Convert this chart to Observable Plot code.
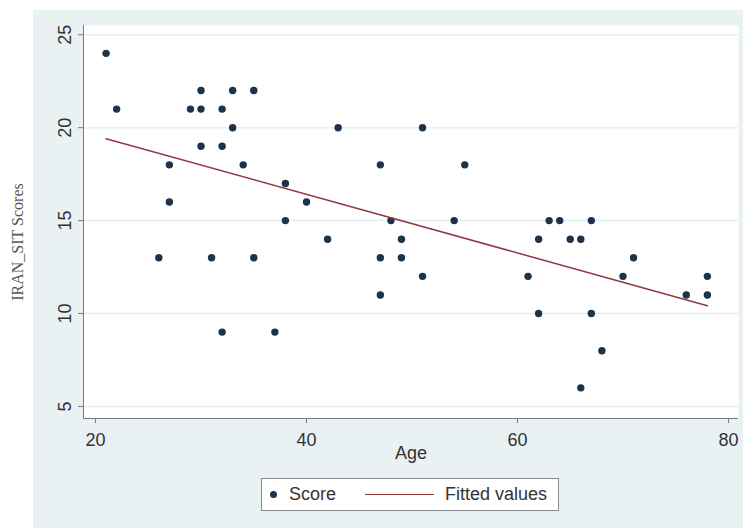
<!DOCTYPE html>
<html>
<head>
<meta charset="utf-8">
<script src="https://cdn.jsdelivr.net/npm/d3@7"></script>
<script src="https://cdn.jsdelivr.net/npm/@observablehq/plot@0.6"></script>
<style>
  html, body { margin: 0; padding: 0; background: #ffffff; }
  #wrap { position: relative; width: 743px; height: 528px; overflow: hidden; background: #ffffff;
          font-family: "Liberation Sans", Arial, sans-serif; }
  #bg { position: absolute; left: 33px; top: 10px; width: 710px; height: 518px; background: #eaf1f3; }
  #chart { position: absolute; left: 0; top: 0; }
  #ytitle { position: absolute; left: 18px; top: 242px; transform: translate(-50%, -50%) rotate(-90deg);
            white-space: nowrap; font-family: "Liberation Serif", "Times New Roman", serif; font-size: 16px;
            color: #555; line-height: 18px; }
  #legend { position: absolute; left: 261px; top: 478px; width: 296px; height: 31px; background: #ffffff;
            border: 1px solid #8a8a8a; font-size: 18px; color: #333; }
  #legend .dot { position: absolute; left: 8px; top: 12px; width: 7px; height: 7px; border-radius: 50%; background: #1c3349; }
  #legend .line { position: absolute; left: 103px; top: 15px; width: 69px; height: 0; border-top: 1.5px solid #8e3a3f; }
  #legend .t { position: absolute; top: 5px; line-height: 20px; white-space: nowrap; }
</style>
</head>
<body>
<div id="wrap">
  <div id="bg"></div>
  <div id="chart"></div>
  <div id="ytitle"></div>
  <div id="legend">
    <div class="dot"></div><span class="t" style="left:27px">Score</span>
    <div class="line"></div><span class="t" style="left:183px">Fitted values</span>
  </div>
</div>
<script>
// Data
const ages   = [21,22,26,27,27,29,30,30,30,31,32,32,32,33,33,34,35,35,37,38,38,40,42,43,47,47,47,48,49,49,51,51,54,55,61,62,62,63,64,65,66,66,67,67,68,70,71,76,78,78];
const scores = [24,21,13,18,16,21,22,21,19,13,21,19, 9,22,20,18,22,13, 9,17,15,16,14,20,18,13,11,15,14,13,20,12,15,18,12,14,10,15,15,14,14, 6,15,10, 8,12,13,11,12,11];
const xTicks = [20, 40, 60, 80];
const yTicks = [5, 10, 15, 20, 25];
const xLabel = "Age";
const yLabel = "IRAN_SIT Scores";

document.getElementById("ytitle").textContent = yLabel;

const data = ages.map((a, i) => ({age: a, score: scores[i]}));
const xDomain = [18.86, 80.95];
const yDomain = [4.35, 25.5];

const chart = Plot.plot({
  width: 743,
  height: 470,
  marginLeft: 83,
  marginTop: 25,
  marginRight: 5,
  marginBottom: 52,
  x: {domain: xDomain},
  y: {domain: yDomain},
  style: {background: "transparent", fontFamily: "'Liberation Sans', Arial, sans-serif", fontSize: "18px", color: "#333"},
  marks: [
    Plot.frame({fill: "white", stroke: null}),
    Plot.ruleY(yTicks, {stroke: "#e6eef0", strokeWidth: 1.5}),
    Plot.ruleX([xDomain[0]], {stroke: "#7a7a7a", strokeWidth: 1}),
    Plot.ruleY([yDomain[0]], {stroke: "#7a7a7a", strokeWidth: 1}),
    Plot.axisX({ticks: xTicks, tickSize: 5, tickPadding: 10, label: null, stroke: "#7a7a7a", fill: "#333"}),
    Plot.axisY({ticks: yTicks, tickSize: 5, tickRotate: -90, tickPadding: 8, label: null, stroke: "#7a7a7a", fill: "#333"}),
    Plot.dot(data, {x: "age", y: "score", r: 3.7, fill: "#1c3349", stroke: null}),
    Plot.linearRegressionY(data, {x: "age", y: "score", ci: 0, stroke: "#8e3a3f", strokeWidth: 1.5}),
    Plot.text([xLabel], {frameAnchor: "bottom", dy: 40, fill: "#333", fontSize: 18})
  ]
});
document.getElementById("chart").appendChild(chart);
</script>
</body>
</html>
